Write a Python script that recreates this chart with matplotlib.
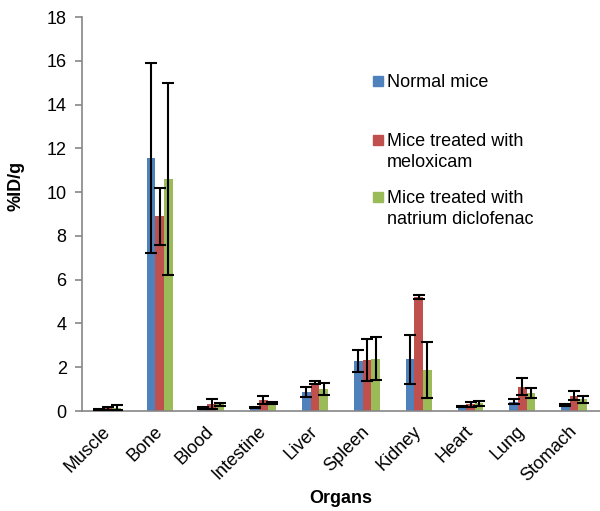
import numpy as np
import matplotlib
matplotlib.use("Agg")
import matplotlib.pyplot as plt
from matplotlib.patches import Rectangle
import matplotlib.transforms as mtransforms

plt.rcParams['font.family'] = ['Liberation Sans', 'DejaVu Sans']

organs = ["Muscle", "Bone", "Blood", "Intestine", "Liver", "Spleen",
          "Kidney", "Heart", "Lung", "Stomach"]

normal = [0.05, 11.55, 0.14, 0.15, 0.88, 2.28, 2.36, 0.20, 0.42, 0.27]
normal_err = [0.02, 4.35, 0.05, 0.03, 0.22, 0.50, 1.12, 0.03, 0.12, 0.03]

meloxicam = [0.12, 8.90, 0.32, 0.50, 1.30, 2.33, 5.20, 0.30, 1.11, 0.70]
meloxicam_err = [0.08, 1.30, 0.23, 0.20, 0.08, 0.95, 0.08, 0.10, 0.40, 0.20]

diclofenac = [0.15, 10.60, 0.30, 0.38, 1.00, 2.39, 1.87, 0.35, 0.84, 0.53]
diclofenac_err = [0.12, 4.40, 0.07, 0.05, 0.28, 0.97, 1.28, 0.10, 0.23, 0.17]

series = [
    (["Normal mice"], normal, normal_err, "#4F81BD"),
    (["Mice treated with", "meloxicam"], meloxicam, meloxicam_err, "#C0504D"),
    (["Mice treated with", "natrium diclofenac"], diclofenac, diclofenac_err, "#9BBB59"),
]

W, H = 600, 511
fig = plt.figure(figsize=(W / 100, H / 100), dpi=100)
ax = fig.add_axes([82 / W, 1 - 411 / H, 518 / W, 394 / H])

x = np.arange(len(organs))
w = 0.167
for i, (name, vals, errs, col) in enumerate(series):
    pos = x + (i - 1) * w
    ax.bar(pos, vals, width=w, color=col, zorder=2)
    ax.errorbar(pos, vals, yerr=errs, fmt="none", ecolor="black",
                elinewidth=1.5, capsize=4.5, capthick=1.5, zorder=3)

ax.set_xlim(-0.5, len(organs) - 0.5)
ax.set_ylim(0, 18)
ax.set_yticks(np.arange(0, 19, 2))
ax.set_xticks(x)
ax.set_xticklabels(organs, rotation=45, ha="right", va="center",
                   rotation_mode="anchor", fontsize=13)
offset = mtransforms.ScaledTranslation(4 / 72, 0, fig.dpi_scale_trans)
for lab in ax.get_xticklabels():
    lab.set_transform(lab.get_transform() + offset)
ax.tick_params(axis="y", labelsize=13, length=5, width=1.2,
               color="#868686", pad=6)
ax.tick_params(axis="x", length=0, pad=13)

for s in ["top", "right"]:
    ax.spines[s].set_visible(False)
for s in ["left", "bottom"]:
    ax.spines[s].set_color("#868686")
    ax.spines[s].set_linewidth(1.2)

ax.set_ylabel("%ID/g", fontsize=13, fontweight="bold", va="center")
ax.yaxis.set_label_coords((16 - 82) / 518, 0.57)
ax.set_xlabel("Organs", fontsize=13, fontweight="bold")
ax.xaxis.set_label_coords(0.5, -(498 - 411) / 394)
ax.xaxis.label.set_va("center")

# legend drawn by hand so markers sit on the first line of each label
px = lambda xx, yy: (xx / W, 1 - yy / H)
baselines = [87, 146, 203]
for (lines, vals, errs, col), base in zip(series, baselines):
    mx, my = px(373, base - 1)
    fig.patches.append(Rectangle((mx, my), 10 / W, 10 / H, color=col,
                                 transform=fig.transFigure, figure=fig))
    for k, line in enumerate(lines):
        tx, ty = px(387, base + 21 * k)
        fig.text(tx, ty, line, fontsize=13, va="baseline", ha="left")

fig.savefig("out.png", dpi=100)
